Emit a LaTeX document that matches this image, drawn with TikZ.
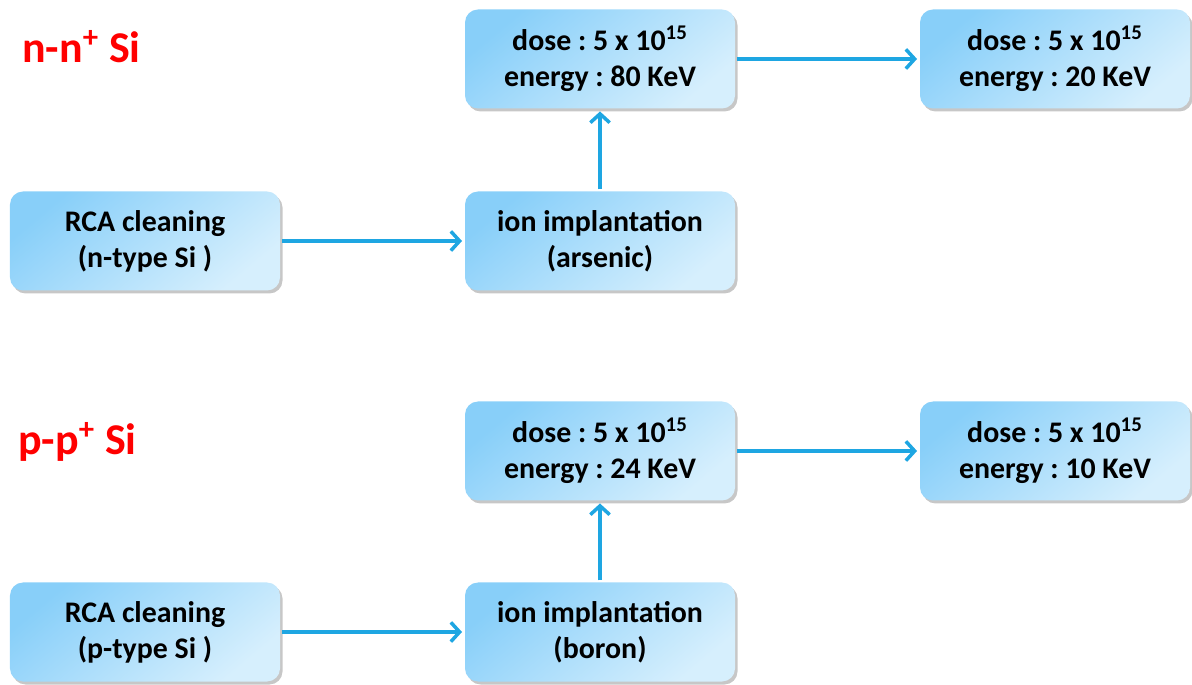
\documentclass[tikz,border=0pt]{standalone}
\usepackage{fontspec}
\setmainfont{Carlito}
\frenchspacing
\usetikzlibrary{calc,positioning,shadows}
\usetikzlibrary{arrows.meta}
\definecolor{boxdark}{HTML}{88CFF9}
\definecolor{boxlight}{HTML}{D6EFFD}
\definecolor{flowblue}{HTML}{1EA6E2}
\tikzstyle{stepbox} = [rectangle, rounded corners=0.26cm, inner sep=0pt, minimum width=5.4cm, minimum height=1.98cm,
align=center, shading=axis, top color=boxdark, bottom color=boxlight, shading angle=40,
drop shadow={shadow xshift=0.05cm, shadow yshift=-0.06cm, fill=black, opacity=0.22},
font=\fontsize{17}{20.5}\selectfont\bfseries]
\tikzstyle{flow} = [-{Straight Barb[length=5pt,width=11pt,line width=2pt]}, draw=flowblue, line width=2.1pt,
shorten <=1pt, shorten >=1.5pt]
\tikzstyle{title} = [anchor=base west, inner sep=0pt, text=red, font=\fontsize{25}{30}\selectfont\bfseries]

\begin{document}
\begin{tikzpicture}
\useasboundingbox (0,0) rectangle (23.84,13.68);
% n-type row
\node (ntitle) [title] at (0.44,12.42) {n-n\textsuperscript{+} Si};
\node (nclean) [stepbox] at (2.9,8.86) {RCA cleaning\\(n-type Si )};
\node (nimpl) [xshift=+9.1cm] at (nclean) [stepbox] {ion implantation\\(arsenic)};
\node (ndoseA) [yshift=+3.64cm] at (nimpl) [stepbox] {dose : 5 x 10\textsuperscript{15}\\energy : 80 KeV};
\node (ndoseB) [xshift=+9.1cm] at (ndoseA) [stepbox] {dose : 5 x 10\textsuperscript{15}\\energy : 20 KeV};

% p-type row
\node (ptitle) [title] at (0.36,4.58) {p-p\textsuperscript{+} Si};
\node (pclean) [yshift=-7.82cm] at (nclean) [stepbox] {RCA cleaning\\(p-type Si )};
\node (pimpl) [xshift=+9.1cm] at (pclean) [stepbox] {ion implantation\\(boron)};
\node (pdoseA) [yshift=+3.62cm] at (pimpl) [stepbox] {dose : 5 x 10\textsuperscript{15}\\energy : 24 KeV};
\node (pdoseB) [xshift=+9.1cm] at (pdoseA) [stepbox] {dose : 5 x 10\textsuperscript{15}\\energy : 10 KeV};

\draw [flow] (nclean) -- (nimpl);
\draw [flow] (nimpl) -- (ndoseA);
\draw [flow] (ndoseA) -- (ndoseB);
\draw [flow] (pclean) -- (pimpl);
\draw [flow] (pimpl) -- (pdoseA);
\draw [flow] (pdoseA) -- (pdoseB);
\end{tikzpicture}
\end{document}
